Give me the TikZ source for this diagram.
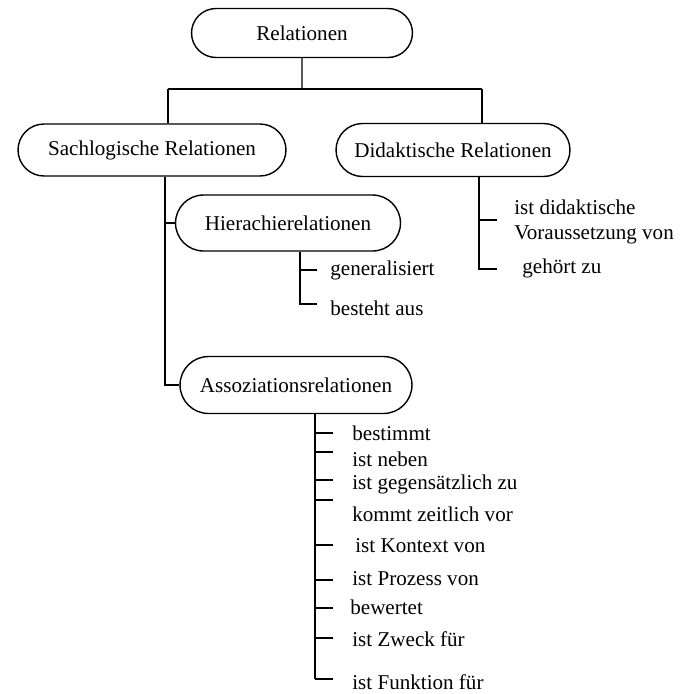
\documentclass[tikz,border=0pt]{standalone}
\usepackage{fontspec}
\setmainfont{Liberation Serif}
\usetikzlibrary{shapes.misc,calc}
\tikzset{
  relbox/.style={rounded rectangle, draw, line width=0.8pt, inner sep=0pt, font=\fontsize{12}{14}\selectfont},
  rellabel/.style={anchor=west, inner sep=0pt, align=left, font=\fontsize{12}{14.2}\selectfont},
  relline/.style={line width=0.8pt}
}

\begin{document}
\begin{tikzpicture}[x=0.02cm,y=-0.02cm]
        \useasboundingbox (0,0) rectangle (686,694);
        %Boxes
        \node[relbox, minimum width=4.42cm, minimum height=0.98cm] (rel) at (302,33) {Relationen};
        \node[relbox, minimum width=5.36cm, minimum height=1.04cm] (sach) at (152,150) {Sachlogische Relationen};
        \node[relbox, minimum width=4.68cm, minimum height=1.06cm] (dida) at (453,150) {Didaktische Relationen};
        \node[relbox, minimum width=4.50cm, minimum height=1.12cm] (hier) at (288,223) {Hierachierelationen};
        \node[relbox, minimum width=4.64cm, minimum height=1.14cm] (asso) at (296,385) {Assoziationsrelationen};
        %Junctions
        \coordinate (j0) at (302,89);
        \coordinate (jL) at (168,89);
        \coordinate (jR) at (482,89);
        \coordinate (s1) at (165,223);
        \coordinate (s2) at (165,385);
        \coordinate (h1) at (300,270);
        \coordinate (h1e) at (317,270);
        \coordinate (h2) at (300,304);
        \coordinate (h2e) at (317,304);
        \coordinate (d1) at (479,220);
        \coordinate (d1e) at (497,220);
        \coordinate (d2) at (479,269);
        \coordinate (d2e) at (497,269);
        %Labels
        \node[rellabel] (gen) at (330,270) {generalisiert};
        \node[rellabel] (best) at (330,308) {besteht aus};
        \node[rellabel] (vor) at (514,222) {ist didaktische\\Voraussetzung von};
        \node[rellabel] (geh) at (522,268) {gehört zu};
        %Draw edges
        \draw[relline] (rel) -- (j0);
        \draw[relline] (jL) -- (jR);
        \draw[relline] (jL) -- (jL |- sach.north);
        \draw[relline] (jR) -- (jR |- dida.north);
        \draw[relline] (s1 |- sach.south) -- (s2) -- (asso.west);
        \draw[relline] (s1) -- (hier.west);
        \draw[relline] (h1 |- hier.south) -- (h2) -- (h2e);
        \draw[relline] (h1) -- (h1e);
        \draw[relline] (d1 |- dida.south) -- (d2) -- (d2e);
        \draw[relline] (d1) -- (d1e);
        %Associations
        \coordinate (aend) at (315,679);
        \draw[relline] (aend |- asso.south) -- (aend);
        \foreach \by/\ty/\tx/\txt/\nm in {433/433/352/bestimmt/a1, 452/459/352/ist neben/a2,
            480/484/352/ist gegensätzlich zu/a3, 500/514/352/kommt zeitlich vor/a4,
            545/546/355/ist Kontext von/a5, 580/579/352/ist Prozess von/a6,
            608/607/350/bewertet/a7, 638/639/352/ist Zweck für/a8, 679/682/352/ist Funktion für/a9}{
          \coordinate (\nm s) at (315,\by);
          \coordinate (\nm e) at (333,\by);
          \draw[relline] (\nm s) -- (\nm e);
          \node[rellabel] (\nm) at (\tx,\ty) {\txt};
        }
      \end{tikzpicture}
\end{document}
